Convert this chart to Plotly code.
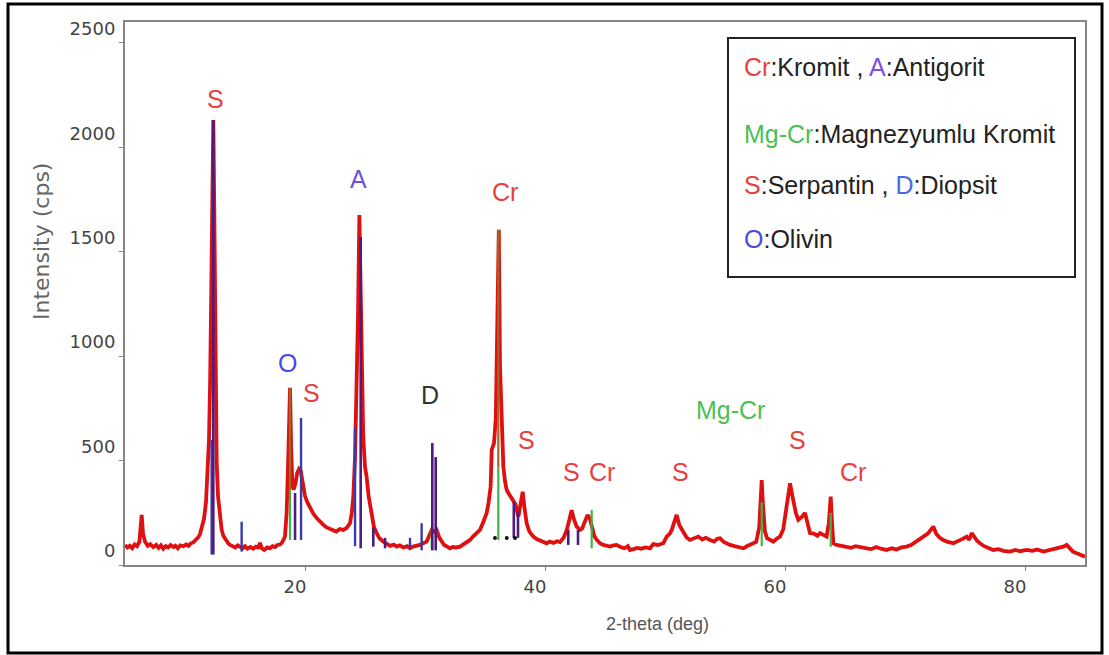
import plotly.graph_objects as go

# ---------------- data ----------------
two_theta = [
    5.0, 5.2, 5.4, 5.6, 5.8, 6.0, 6.2, 6.3, 6.39, 6.5, 6.67, 6.9, 7.1, 7.36, 7.6, 7.8, 8.0, 8.19, 8.4, 8.6,
    8.8, 9.03, 9.2, 9.4, 9.6, 9.86, 10.1, 10.3, 10.5, 10.69, 10.9, 11.1, 11.25, 11.45, 11.58, 11.75, 11.86,
    12.0, 12.1, 12.2, 12.28, 12.36, 12.44, 12.52, 12.64, 12.75, 12.92, 13.05, 13.19, 13.4, 13.6, 13.75,
    14.0, 14.2, 14.4, 14.58, 14.8, 15.0, 15.2, 15.45, 15.69, 15.9, 16.1, 16.25, 16.4, 16.6, 16.85, 17.08,
    17.3, 17.5, 17.7, 17.92, 18.1, 18.33, 18.47, 18.6, 18.75, 18.85, 18.95, 19.05, 19.2, 19.35, 19.5, 19.65,
    19.8, 20.0, 20.2, 20.42, 20.7, 20.97, 21.25, 21.53, 21.8, 22.1, 22.36, 22.6, 22.9, 23.19, 23.45, 23.75,
    23.9, 24.03, 24.17, 24.3, 24.42, 24.53, 24.62, 24.72, 24.85, 25.0, 25.14, 25.3, 25.56, 25.75, 25.97,
    26.2, 26.53, 26.8, 27.1, 27.4, 27.64, 27.9, 28.2, 28.5, 28.75, 29.0, 29.3, 29.58, 29.85, 30.14, 30.35,
    30.56, 30.75, 30.97, 31.2, 31.39, 31.6, 31.85, 32.08, 32.3, 32.6, 32.92, 33.2, 33.5, 33.75, 34.0, 34.3,
    34.58, 34.85, 35.14, 35.3, 35.47, 35.56, 35.75, 35.9, 36.0, 36.15, 36.25, 36.39, 36.53, 36.67, 36.81,
    37.0, 37.2, 37.36, 37.55, 37.78, 37.95, 38.14, 38.3, 38.47, 38.7, 39.03, 39.3, 39.6, 39.85, 40.14,
    40.4, 40.7, 41.0, 41.25, 41.55, 41.81, 42.0, 42.22, 42.4, 42.64, 42.92, 43.1, 43.3, 43.55, 43.75, 43.89,
    44.1, 44.31, 44.58, 44.85, 45.15, 45.42, 45.7, 45.97, 46.3, 46.6, 46.9, 47.08, 47.36, 47.7, 48.0, 48.4,
    48.75, 49.03, 49.4, 49.86, 50.14, 50.4, 50.56, 50.8, 50.97, 51.2, 51.53, 51.8, 52.08, 52.4, 52.78, 53.1,
    53.4, 53.75, 54.1, 54.35, 54.58, 54.9, 55.2, 55.42, 55.8, 56.2, 56.53, 56.9, 57.2, 57.36, 57.6, 57.85,
    57.95, 58.06, 58.15, 58.33, 58.5, 58.75, 59.03, 59.3, 59.58, 59.85, 60.14, 60.3, 60.42, 60.55, 60.69,
    60.9, 61.11, 61.4, 61.67, 61.85, 62.08, 62.4, 62.7, 62.92, 63.2, 63.47, 63.65, 63.81, 63.92, 64.03,
    64.3, 64.6, 65.14, 65.5, 65.9, 66.3, 66.81, 67.2, 67.6, 68.0, 68.47, 68.9, 69.3, 69.7, 70.14, 70.5,
    70.9, 71.2, 71.53, 71.9, 72.1, 72.36, 72.6, 72.9, 73.19, 73.5, 74.03, 74.4, 74.8, 75.14, 75.35, 75.56,
    75.8, 76.0, 76.25, 76.6, 77.0, 77.36, 77.8, 78.2, 78.75, 79.2, 79.6, 80.14, 80.6, 81.0, 81.53, 82.0,
    82.5, 82.92, 83.2, 83.47, 83.7, 84.0, 84.31, 84.6, 85.0,
]
intensity = [
    96, 84, 92, 80, 98, 90, 112, 170, 240, 150, 112, 92, 100, 86, 96, 82, 94, 78, 90, 84,
    96, 86, 92, 80, 94, 90, 98, 92, 104, 108, 118, 132, 148, 190, 220, 300, 410,
    600, 900, 1400, 1800, 2131, 1700, 1000, 490, 330, 210, 170, 140, 118, 104, 96,
    90, 84, 94, 86, 80, 90, 78, 86, 78, 88, 84, 106, 80, 72, 84, 80,
    90, 86, 96, 98, 108, 136, 250, 500, 848, 550, 380, 360, 390, 440, 460, 450,
    390, 330, 300, 273, 245, 225, 205, 192, 180, 172, 168, 160, 172, 168, 176, 200,
    250, 330, 520, 800, 1200, 1676, 1300, 900, 620, 470, 420, 330, 231, 180, 153,
    128, 112, 100, 92, 98, 88, 94, 84, 90, 80, 88, 92, 96, 104, 112, 140,
    168, 160, 168, 130, 110, 96, 88, 80, 86, 84, 88, 98, 110, 120, 136, 150,
    168, 205, 249, 300, 375, 551, 584, 700, 1000, 1605, 950, 700, 471, 400, 359,
    340, 320, 311, 290, 231, 280, 351, 270, 200, 160, 136, 124, 116, 110, 104,
    112, 106, 114, 110, 130, 168, 210, 263, 220, 184, 168, 175, 205, 240, 220, 184,
    140, 120, 104, 96, 92, 88, 94, 96, 86, 80, 90, 72, 76, 82, 78, 84,
    80, 100, 96, 104, 136, 150, 168, 210, 240, 190, 153, 132, 120, 128, 136, 122,
    130, 120, 112, 126, 128, 110, 100, 96, 90, 86, 80, 92, 98, 104, 110, 180,
    300, 407, 300, 160, 128, 120, 112, 126, 136, 170, 279, 350, 391, 350, 311,
    250, 216, 230, 249, 200, 153, 150, 140, 153, 145, 136, 200, 327, 200, 104,
    96, 92, 88, 82, 90, 84, 80, 76, 86, 78, 72, 80, 74, 84, 88, 96,
    110, 120, 136, 150, 165, 184, 150, 130, 120, 112, 104, 112, 125, 136, 120, 153,
    128, 116, 104, 90, 80, 72, 76, 68, 64, 72, 66, 72, 68, 74, 64, 70,
    76, 80, 88, 96, 80, 64, 56, 50, 40,
]

# reference-pattern sticks: position, bottom, top
purple_pos = [12.36, 24.64, 30.61, 30.89, 19.17, 37.4, 37.75, 25.69, 26.67, 41.94, 42.75]
purple_low = [50, 80, 70, 70, 120, 130, 130, 88, 80, 96, 96]
purple_high = [2131, 1571, 584, 517, 345, 300, 260, 181, 130, 168, 168]

blue_pos = [12.22, 14.72, 19.67, 24.17, 29.72, 28.75]
blue_low = [50, 64, 120, 90, 70, 80]
blue_high = [599, 207, 704, 661, 200, 130]

green_pos = [18.75, 36.11, 30.56, 43.89, 58.06, 63.81]
green_low = [120, 120, 80, 80, 90, 88]
green_high = [359, 470, 168, 263, 300, 250]

olive_pos = [18.75, 36.11]
olive_low = [359, 470]
olive_high = [848, 1605]

dots_pos = [35.83, 36.81, 37.5]
dots_val = [129, 129, 129]

x_ticks = [20, 40, 60, 80]
y_ticks = [0, 500, 1000, 1500, 2000, 2500]

# peak labels: text, 2-theta, intensity, colour
peak_labels = [
    ("S", 12.5, 2232, "#e8403f"),
    ("A", 24.42, 1849, "#6f4fe0"),
    ("O", 18.5, 967, "#4a4ae0"),
    ("S", 20.58, 824, "#e8403f"),
    ("D", 30.42, 814, "#333333"),
    ("Cr", 36.67, 1786, "#e8403f"),
    ("S", 38.47, 599, "#e8403f"),
    ("S", 42.22, 447, "#e8403f"),
    ("Cr", 44.72, 447, "#e8403f"),
    ("S", 51.25, 447, "#e8403f"),
    ("Mg-Cr", 55.42, 742, "#4cbf55"),
    ("S", 61.08, 599, "#e8403f"),
    ("Cr", 65.67, 445, "#e8403f"),
]

legend_lines = [
    "<span style='color:#e8403f'>Cr</span>:Kromit , <span style='color:#7a4fe0'>A</span>:Antigorit",
    "<span style='color:#4cbf55'>Mg-Cr</span>:Magnezyumlu Kromit",
    "<span style='color:#e8403f'>S</span>:Serpantin , <span style='color:#4a6ae6'>D</span>:Diopsit",
    "<span style='color:#4a4ae0'>O</span>:Olivin",
]


def sticks(pos, low, high):
    xs, ys = [], []
    for p, lo, hi in zip(pos, low, high):
        xs += [p, p, None]
        ys += [lo, hi, None]
    return xs, ys


fig = go.Figure()
fig.add_trace(go.Scatter(x=two_theta, y=intensity, mode="lines",
                         line=dict(color="#e01010", width=3.8), hoverinfo="skip"))

for pos, low, high, col, w in [
    (green_pos, green_low, green_high, "#3cb44b", 2.2),
    (olive_pos, olive_low, olive_high, "#9a6a28", 2.2),
    (blue_pos, blue_low, blue_high, "#3a3aa8", 2.4),
    (purple_pos, purple_low, purple_high, "#4e1c7e", 2.6),
]:
    sx, sy = sticks(pos, low, high)
    fig.add_trace(go.Scatter(x=sx, y=sy, mode="lines", line=dict(color=col, width=w),
                             hoverinfo="skip"))

fig.add_trace(go.Scatter(x=dots_pos, y=dots_val, mode="markers",
                         marker=dict(color="#111111", size=4), hoverinfo="skip"))

W, H = 1109, 655
L, R, T, B = 125, 24, 22, 90
pw, ph = W - L - R, H - T - B


def px2paper(px, py):
    return (px - L) / pw, (H - B - py) / ph


annotations = []
for txt, xx, yy, col in peak_labels:
    annotations.append(dict(x=xx, y=yy, xref="x", yref="y", text=txt, showarrow=False,
                            font=dict(family="Liberation Sans, Arial", size=25, color=col),
                            xanchor="center", yanchor="middle"))

legend_y = [67.5, 133.5, 185.5, 238.5]
for txt, ly in zip(legend_lines, legend_y):
    ax_, ay_ = px2paper(742, ly)
    annotations.append(dict(x=ax_, y=ay_, xref="paper", yref="paper", text=txt, showarrow=False,
                            font=dict(family="Liberation Sans, Arial", size=25, color="#222222"),
                            xanchor="left", yanchor="middle"))

tx, ty = px2paper(42, 242)
annotations.append(dict(x=tx, y=ty, xref="paper", yref="paper", text="Intensity (cps)",
                        showarrow=False, textangle=-90,
                        font=dict(family="DejaVu Sans", size=22, color="#666666"),
                        xanchor="center", yanchor="middle"))
tx, ty = px2paper(657, 624)
annotations.append(dict(x=tx, y=ty, xref="paper", yref="paper", text="2-theta (deg)",
                        showarrow=False,
                        font=dict(family="Liberation Sans, Arial", size=18, color="#555555"),
                        xanchor="center", yanchor="middle"))

lx0, ly1 = px2paper(728, 38)
lx1, ly0 = px2paper(1075, 277)
ox0, oy1 = px2paper(8, 4)
ox1, oy0 = px2paper(1102, 653)
shapes = [
    dict(type="rect", xref="paper", yref="paper", x0=lx0, x1=lx1, y0=ly0, y1=ly1,
         line=dict(color="#222222", width=2), fillcolor="white", layer="above"),
    dict(type="rect", xref="paper", yref="paper", x0=ox0, x1=ox1, y0=oy0, y1=oy1,
         line=dict(color="#000000", width=3), layer="above"),
]

axis_common = dict(showgrid=False, zeroline=False, showline=True, linecolor="#858585",
                   linewidth=2, mirror=True, ticks="outside", ticklen=4, tickcolor="#858585",
                   tickfont=dict(family="DejaVu Sans", size=18, color="#444444"))

fig.update_layout(
    width=W, height=H, margin=dict(l=L, r=R, t=T, b=B),
    paper_bgcolor="white", plot_bgcolor="white", showlegend=False,
    xaxis=dict(range=[5, 85], tickvals=x_ticks, ticktext=[str(v) for v in x_ticks],
               ticklabelshift=-10, **axis_common),
    yaxis=dict(range=[0, 2600], tickvals=y_ticks, ticktext=[str(v) for v in y_ticks],
               ticklabelshift=-14, **axis_common),
    annotations=annotations, shapes=shapes,
)

fig.write_html("out.html")
